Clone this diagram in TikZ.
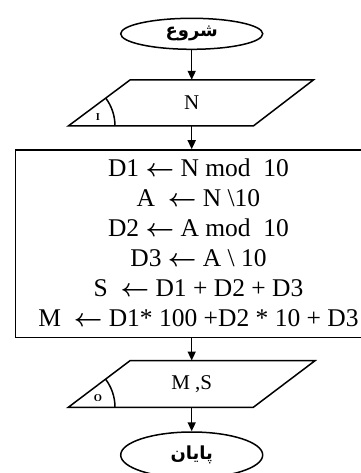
\documentclass[tikz,border=0pt]{standalone}
\usepackage{fontspec}
\setmainfont{Liberation Serif}
\newfontfamily\fafont[Script=Arabic]{DejaVu Sans}
\TeXXeTstate=1
\usetikzlibrary{shapes.geometric,arrows.meta}
\newcommand{\asg}{{\boldmath$\leftarrow$}}
\tikzset{
  line/.style={line width=1.5pt},
  arr/.style={line width=1.5pt,-{Triangle[length=9pt,width=8pt]}},
  term/.style={draw,ellipse,line width=1.5pt,minimum width=142pt,inner sep=0pt},
  boxline/.style={anchor=base,font=\fontsize{25.5}{30}\selectfont,inner sep=0pt},
  iotext/.style={font=\fontsize{21}{24}\selectfont,inner sep=0pt},
  tag/.style={font=\bfseries\fontsize{10.5}{12}\selectfont,inner sep=0pt},
  fatext/.style={font=\fafont\bfseries\fontsize{18}{21}\selectfont},
}
\begin{document}
\begin{tikzpicture}[x=1pt,y=1pt]
\useasboundingbox (0,0) rectangle (360,-473);
% start
\node[term,minimum height=31pt,fatext] (start) at (191.7,-33.8) {\beginR شروع\endR};
% input parallelogram
\draw[line] (68.3,-126) -- (130,-80) -- (313.3,-80) -- (253.3,-126) -- cycle;
\node[iotext,minimum height=46pt] (pin) at (191.7,-103) {N};
\draw[line] (68.3+46.7,-126) arc[start angle=0,end angle=36.6,radius=46.7];
\node[tag] (tagI) at (98,-117) {I};
% process box
\node[draw,line width=1.5pt,minimum width=366pt,minimum height=187.7pt,inner sep=0pt] (proc) at (198.5,-243.85) {};
\node[boxline] (l1) at (198.5,-176) {D1 \asg\ N mod\ \ 10};
\node[boxline] (l2) at (198.5,-206) {A\ \ \asg\ N \textbackslash10};
\node[boxline] (l3) at (198.5,-236) {D2 \asg\ A mod\ \ 10};
\node[boxline] (l4) at (198.5,-266) {D3 \asg\ A \textbackslash\ 10};
\node[boxline] (l5) at (198.5,-296) {S\ \ \asg\ D1 + D2 + D3};
\node[boxline] (l6) at (198.5,-326) {M\ \ \asg\ D1* 100 +D2 * 10 + D3};
% output parallelogram
\draw[line] (68.3,-407.3) -- (130,-360.7) -- (315,-360.7) -- (253.3,-407.3) -- cycle;
\node[iotext,minimum height=46.6pt] (pout) at (191.7,-384) {M ,S};
\draw[line] (68.3+46.7,-407.3) arc[start angle=0,end angle=37,radius=46.7];
\node[tag] (tagO) at (98,-398) {O};
% end
\node[term,minimum height=46pt,fatext] (stop) at (191.7,-455) {\beginR پایان\endR};
% connectors
\draw[arr] (start.south) -- (pin.north);
\draw[arr] (pin.south) -- (pin.south |- proc.north);
\draw[arr] (pin.south |- proc.south) -- (pout.north);
\draw[arr] (pout.south) -- (stop.north);
\end{tikzpicture}
\end{document}
